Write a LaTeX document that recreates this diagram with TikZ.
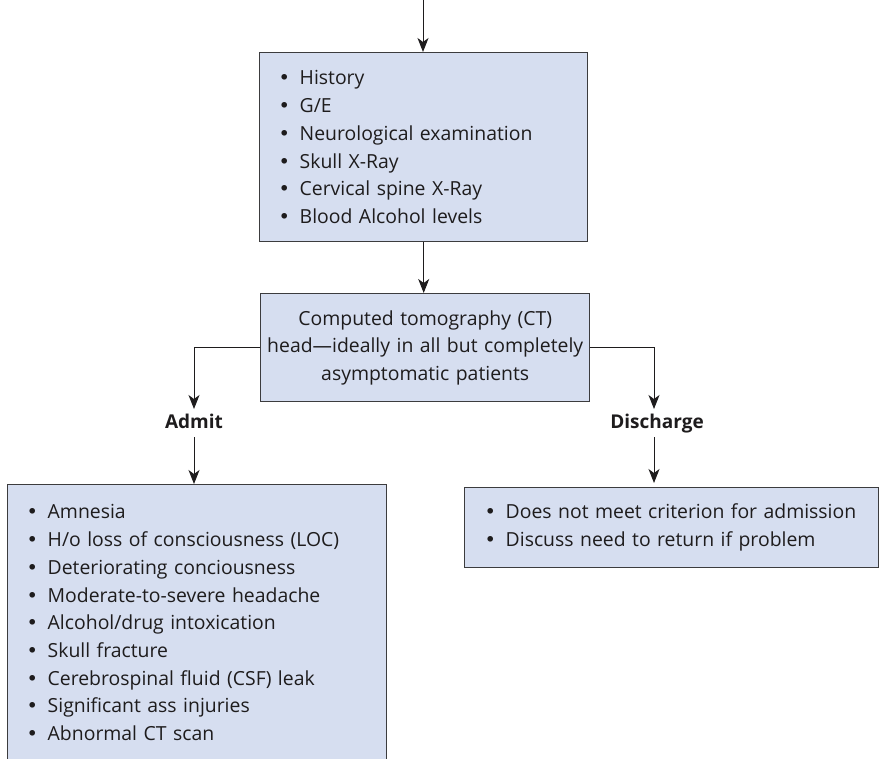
\documentclass[tikz,border=0pt]{standalone}
\usepackage{fontspec}
\setmainfont{Open Sans}
\newfontfamily\bulfont{DejaVu Sans}
\usetikzlibrary{arrows.meta}
\definecolor{boxfill}{RGB}{214,222,240}
\definecolor{boxline}{RGB}{60,60,62}
\definecolor{ink}{RGB}{30,28,29}
\newcommand\itm{\makebox[19pt][l]{\hspace{-2pt}{\bulfont •}}}
\tikzset{
  box/.style={draw=boxline, fill=boxfill, line width=1.4pt, rectangle, inner ysep=0pt,
    text=ink, font=\fontsize{19.4}{27.7}\selectfont},
  lbl/.style={font=\bfseries\fontsize{19}{22}\selectfont, text=ink, inner sep=0pt,
    text height=14pt, text depth=4pt, outer sep=5pt},
  conn/.style={draw=ink, line width=1pt},
  arr/.style={conn, -{Stealth[length=14pt,width=11pt,inset=4pt]}},
}
\begin{document}
\begin{tikzpicture}[x=1pt,y=-1pt]
\useasboundingbox (0,0) rectangle (880,758);
\clip (0,0) rectangle (880,758);

\coordinate (start) at (423,-5);

\node[box, anchor=north west, minimum height=189,
  inner xsep=21pt, text width=286pt, align=left] (b1) at (259,52)
  {\itm History\\ \itm G/E\\ \itm Neurological examination\\ \itm Skull X-Ray\\
   \itm Cervical spine X-Ray\\ \itm Blood Alcohol levels};

\node[box, anchor=north west, minimum height=108,
  inner xsep=4pt, text width=321pt, align=center] (b2) at (260,293)
  {Computed tomography (CT)\\ head—ideally in all but completely\\ asymptomatic patients};

\node[lbl] (admit) at (194,423) {Admit};
\node[lbl] (dis) at (657,423) {Discharge};

\node[box, anchor=north west, minimum height=276,
  inner xsep=21pt, text width=337pt, align=left] (b3) at (7,484)
  {\itm Amnesia\\ \itm H/o loss of consciousness (LOC)\\ \itm Deteriorating conciousness\\
   \itm Moderate-to-severe headache\\ \itm Alcohol/drug intoxication\\ \itm Skull fracture\\
   \itm Cerebrospinal fluid (CSF) leak\\ \itm Significant ass injuries\\ \itm Abnormal CT scan};

\node[box, anchor=north west, minimum height=80,
  inner xsep=22pt, text width=370pt, align=left] (b4) at (464,487)
  {\itm Does not meet criterion for admission\\ \itm Discuss need to return if problem};

\draw[arr] (start) -- (start |- b1.north);
\draw[arr] (b1.south) -- (b1.south |- b2.north);
\draw[arr] (b2.west) -| (admit.north);
\draw[arr] (admit.south) -- (admit.south |- b3.north);
\draw[arr] (b2.east) -| ([xshift=-3pt]dis.north);
\draw[arr, shorten >=4pt] ([xshift=-3pt]dis.south) -- ([xshift=-3pt]dis.south |- b4.north);
\end{tikzpicture}
\end{document}
